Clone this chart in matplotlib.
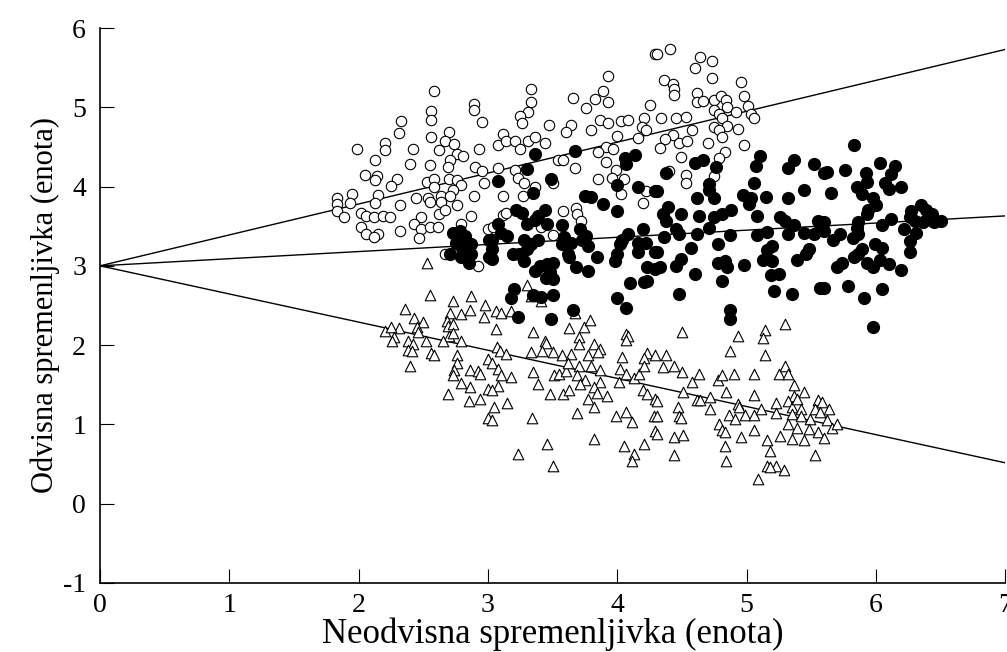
import numpy as np
import matplotlib.pyplot as plt

# odčitane točke (x, y) po skupinah
open_pts = np.array([
    (2.58, 5.21), (2.89, 5.04), (2.89, 4.97), (2.56, 4.95), (2.56, 4.84), (2.95, 4.82), (2.33, 4.83),
    (2.31, 4.68), (2.70, 4.69), (2.56, 4.63), (2.20, 4.55), (2.67, 4.57), (2.74, 4.54), (1.99, 4.47),
    (2.20, 4.46), (2.42, 4.47), (2.62, 4.46), (2.93, 4.48), (2.76, 4.41), (2.81, 4.38), (2.13, 4.33),
    (2.71, 4.33), (2.40, 4.29), (2.55, 4.27), (2.69, 4.25), (2.90, 4.25), (2.95, 4.20), (2.05, 4.15),
    (2.14, 4.13), (2.13, 4.08), (2.30, 4.10), (2.25, 4.01), (2.53, 4.06), (2.58, 4.09), (2.70, 4.09),
    (2.76, 4.08), (2.79, 4.02), (2.97, 4.05), (2.58, 3.99), (2.73, 3.96), (1.83, 3.85), (1.95, 3.90),
    (2.15, 3.89), (2.44, 3.86), (2.54, 3.86), (2.64, 3.88), (2.71, 3.88), (2.89, 3.88),
    (1.83, 3.78), (1.93, 3.79), (2.13, 3.79), (2.32, 3.77), (2.55, 3.80), (2.64, 3.81), (2.76, 3.77),
    (1.83, 3.69), (1.89, 3.61), (2.02, 3.67), (2.06, 3.63), (2.12, 3.62), (2.19, 3.63), (2.24, 3.62),
    (2.48, 3.62), (2.62, 3.65), (2.67, 3.71), (2.87, 3.63), (2.43, 3.53), (2.48, 3.46), (2.55, 3.49),
    (2.61, 3.49), (2.79, 3.53), (2.02, 3.49), (2.06, 3.40), (2.15, 3.40), (2.12, 3.37), (2.32, 3.44),
    (2.47, 3.35), (3.00, 3.46), (2.67, 3.15), (2.92, 3.00),
    (4.29, 5.67), (3.93, 5.40), (3.33, 5.23), (3.89, 5.20), (3.66, 5.12), (3.83, 5.11), (3.93, 5.07),
    (3.33, 5.07), (4.25, 5.03), (3.76, 4.99), (3.31, 4.94), (3.25, 4.89), (3.26, 4.80), (3.47, 4.78),
    (3.64, 4.78), (3.87, 4.84), (3.93, 4.80), (4.03, 4.83), (4.08, 4.84), (4.21, 4.86), (4.19, 4.75),
    (4.22, 4.71), (3.60, 4.69), (3.80, 4.71), (4.00, 4.64), (3.12, 4.66), (3.08, 4.52), (3.14, 4.57),
    (3.21, 4.57), (3.31, 4.57), (3.36, 4.63), (3.44, 4.55), (3.25, 4.48), (4.16, 4.61), (3.91, 4.50),
    (3.85, 4.43), (3.97, 4.47), (3.54, 4.34), (3.58, 4.33), (3.67, 4.24), (3.91, 4.31), (3.99, 4.21),
    (3.08, 4.24), (3.21, 4.21), (3.96, 4.11), (4.05, 4.09), (3.85, 4.09), (3.23, 4.11), (3.28, 4.04),
    (3.36, 4.00), (3.50, 4.04), (3.12, 3.88), (3.27, 3.88), (4.03, 3.90), (4.22, 3.94),
    (4.41, 5.73), (4.64, 5.64), (4.73, 5.58), (4.60, 5.50), (4.31, 5.67), (4.36, 5.35), (4.43, 5.29),
    (4.44, 5.23), (4.44, 5.16), (4.73, 5.37), (4.96, 5.32), (4.62, 5.18), (4.62, 5.07), (4.66, 5.08),
    (4.75, 5.09), (4.80, 5.14), (4.84, 5.09), (4.98, 5.14), (4.75, 4.97), (4.85, 5.01), (5.01, 5.02),
    (4.92, 4.94), (4.79, 4.92), (4.81, 4.86), (5.03, 4.92), (5.06, 4.87), (4.34, 4.86), (4.45, 4.86),
    (4.53, 4.88), (4.75, 4.75), (4.85, 4.76), (4.93, 4.73), (4.79, 4.71), (4.81, 4.62), (4.58, 4.71),
    (4.43, 4.65), (4.37, 4.60), (4.48, 4.55), (4.54, 4.57), (4.70, 4.55), (4.98, 4.53), (4.83, 4.43),
    (4.79, 4.36), (4.49, 4.37), (4.33, 4.49), (4.40, 4.20), (4.75, 4.13), (4.53, 4.15), (4.53, 4.04),
    (4.20, 3.79), (3.68, 3.73), (3.69, 3.66), (3.72, 3.57), (3.58, 3.69), (3.50, 3.39), (3.41, 3.49),
    (3.12, 3.64), (3.14, 3.67), (3.04, 3.49),
])

filled_pts = np.array([
    (2.73, 3.42), (2.78, 3.44), (2.82, 3.38), (2.75, 3.29), (2.80, 3.23), (2.87, 3.15), (2.71, 3.15),
    (2.79, 3.11), (2.85, 3.04), (3.01, 3.32), (3.01, 3.11), (2.87, 3.27), (2.82, 3.17),
    (3.36, 4.41), (3.67, 4.45), (3.30, 4.22), (3.08, 4.07), (3.49, 4.09), (3.35, 3.92), (4.06, 4.36),
    (4.07, 4.28), (4.14, 4.40), (4.00, 4.02), (4.16, 3.99), (4.29, 3.94), (3.75, 3.88), (3.80, 3.87),
    (4.38, 4.17), (4.60, 4.30), (4.66, 4.33), (4.76, 4.25), (4.71, 4.03), (4.71, 3.96), (4.31, 3.94),
    (5.10, 4.38), (5.07, 4.26), (5.06, 4.05), (5.37, 4.34), (5.32, 4.24), (5.52, 4.28), (5.60, 4.17),
    (5.44, 3.96), (4.62, 3.86), (4.75, 3.86), (4.97, 3.89), (5.03, 3.86), (5.15, 3.87), (5.32, 3.85),
    (5.83, 4.52), (5.62, 4.18), (5.76, 4.21), (5.92, 4.17), (6.03, 4.30), (6.15, 4.26), (6.12, 4.16),
    (5.93, 4.06), (5.85, 4.00), (6.07, 4.04), (6.10, 3.97), (6.19, 3.99), (5.65, 3.92), (5.89, 3.90),
    (5.98, 3.86),
    (3.22, 3.71), (3.26, 3.67), (3.44, 3.71), (3.39, 3.63), (3.36, 3.58), (3.30, 3.53), (3.46, 3.53),
    (3.57, 3.52), (4.00, 3.69), (3.89, 3.78), (3.08, 3.53), (3.10, 3.42), (3.15, 3.38), (3.71, 3.46),
    (3.76, 3.38), (3.73, 3.32), (4.20, 3.46), (4.08, 3.40), (4.04, 3.32), (4.02, 3.27), (4.16, 3.29),
    (4.22, 3.29), (4.29, 3.17), (3.03, 3.32), (3.03, 3.21), (3.03, 3.08), (3.28, 3.32), (3.33, 3.28),
    (3.39, 3.32), (3.30, 3.21), (3.24, 3.15), (3.19, 3.15), (3.28, 3.06), (3.57, 3.27), (3.64, 3.29),
    (3.59, 3.36), (3.62, 3.15), (3.63, 3.11), (3.77, 3.25), (3.84, 3.11), (4.00, 3.15), (3.98, 3.06),
    (4.16, 3.17), (3.50, 3.04), (3.46, 3.02), (3.40, 3.00), (3.36, 2.93), (3.48, 2.92), (3.45, 2.85),
    (3.50, 2.84), (3.68, 2.99), (3.77, 2.93), (4.23, 2.98), (4.29, 2.96), (4.23, 2.81), (4.21, 2.79),
    (4.10, 2.78), (3.20, 2.71), (3.18, 2.60), (3.35, 2.63), (3.41, 2.61), (3.50, 2.63), (4.00, 2.59),
    (4.07, 2.47), (3.66, 2.44), (3.23, 2.36), (3.49, 2.33),
    (4.39, 3.74), (4.35, 3.65), (4.38, 3.57), (4.49, 3.65), (4.63, 3.63), (4.75, 3.61), (4.81, 3.66),
    (4.88, 3.71), (5.02, 3.78), (5.08, 3.63), (5.26, 3.61), (5.30, 3.57), (5.37, 3.52), (5.55, 3.57),
    (4.45, 3.46), (4.48, 3.40), (4.36, 3.37), (4.62, 3.40), (4.71, 3.48), (4.87, 3.39), (5.08, 3.39),
    (5.16, 3.43), (5.32, 3.40), (5.44, 3.41), (5.52, 3.40), (5.57, 3.46), (4.31, 3.18), (4.49, 3.08),
    (4.45, 3.00), (4.33, 2.98), (4.57, 3.22), (4.78, 3.28), (5.20, 3.25), (5.16, 3.20), (5.48, 3.21),
    (5.46, 3.15), (5.39, 3.07), (4.78, 3.03), (4.83, 3.06), (4.85, 2.98), (4.98, 3.01), (5.13, 3.07),
    (5.20, 3.06), (4.60, 2.90), (4.81, 2.81), (5.19, 2.89), (5.25, 2.90), (4.48, 2.64), (5.21, 2.68),
    (5.35, 2.64), (5.57, 2.72), (4.87, 2.44), (4.87, 2.33),
    (5.94, 3.71), (6.00, 3.77), (5.93, 3.65), (6.35, 3.77), (6.39, 3.71), (6.43, 3.65), (6.27, 3.69),
    (6.26, 3.62), (6.30, 3.56), (6.36, 3.55), (6.45, 3.55), (6.50, 3.56), (5.86, 3.55), (5.85, 3.48),
    (6.05, 3.52), (6.12, 3.59), (6.22, 3.46), (6.31, 3.42), (5.60, 3.55), (5.60, 3.44), (5.72, 3.40),
    (5.67, 3.32), (5.82, 3.35), (5.86, 3.40), (6.26, 3.31), (6.26, 3.17), (5.99, 3.27), (6.05, 3.22),
    (5.89, 3.21), (5.86, 3.15), (5.83, 3.11), (5.74, 3.03), (5.70, 2.98), (5.93, 3.04), (6.03, 3.07),
    (5.98, 2.98), (6.10, 3.02), (6.19, 2.95), (5.60, 2.72), (5.78, 2.75), (5.91, 2.60), (6.05, 2.71),
    (5.98, 2.23),
])

tri_pts = np.array([
    (2.53, 3.03), (2.55, 2.63), (2.36, 2.45), (2.73, 2.56), (2.87, 2.62), (2.98, 2.50), (2.97, 2.36),
    (2.86, 2.44), (2.79, 2.39), (2.71, 2.40), (2.43, 2.34), (2.50, 2.29), (2.68, 2.30), (2.69, 2.24),
    (2.73, 2.26), (2.70, 2.12), (2.73, 2.15), (2.65, 2.05), (2.79, 2.05), (2.45, 2.23), (2.46, 2.17),
    (2.31, 2.21), (2.20, 2.18), (2.25, 2.23), (2.27, 2.10), (2.26, 2.05), (2.38, 2.05), (2.42, 2.01),
    (2.38, 1.94), (2.41, 1.93), (2.52, 2.05), (2.56, 1.90), (2.58, 1.88), (2.76, 1.87), (3.00, 1.82),
    (2.40, 1.73), (2.76, 1.77), (2.74, 1.68), (2.73, 1.62), (2.86, 1.68), (2.92, 1.67), (2.94, 1.64),
    (2.79, 1.52), (2.86, 1.47), (2.69, 1.38), (2.85, 1.29), (2.94, 1.32), (3.00, 1.45), (3.00, 1.08),
    (3.30, 2.76), (3.33, 2.62), (3.41, 2.55), (3.06, 2.43), (3.10, 2.41), (3.18, 2.43), (3.67, 2.41),
    (3.06, 2.20), (3.35, 2.16), (3.44, 2.05), (3.45, 2.03), (3.63, 2.21), (3.74, 2.23), (3.79, 2.32),
    (3.70, 2.10), (3.70, 2.01), (3.82, 2.02), (3.87, 1.95), (3.85, 1.91), (4.07, 2.14), (4.08, 2.11),
    (4.07, 2.06), (3.07, 1.97), (3.09, 1.93), (3.14, 1.89), (3.33, 1.91), (3.42, 1.93), (3.50, 1.91),
    (3.57, 1.87), (3.64, 1.89), (3.77, 1.88), (4.04, 1.85), (4.23, 1.90), (4.21, 1.84), (4.29, 1.87),
    (3.03, 1.77), (3.08, 1.70), (3.10, 1.62), (3.18, 1.60), (3.35, 1.66), (3.51, 1.62), (3.55, 1.64),
    (3.60, 1.67), (3.62, 1.77), (3.70, 1.73), (3.80, 1.74), (3.87, 1.69), (3.69, 1.62), (3.75, 1.56),
    (3.71, 1.51), (3.87, 1.54), (4.02, 1.70), (4.01, 1.53), (4.07, 1.63), (4.13, 1.59), (4.17, 1.64),
    (4.21, 1.73), (3.08, 1.49), (3.03, 1.43), (3.39, 1.51), (3.48, 1.38), (3.58, 1.38), (3.63, 1.43),
    (3.82, 1.47), (3.84, 1.39), (3.77, 1.32), (3.82, 1.22), (3.92, 1.36), (4.20, 1.43), (4.23, 1.38),
    (4.29, 1.32), (3.15, 1.27), (3.05, 1.22), (3.03, 1.05), (3.34, 1.08), (3.69, 1.14), (3.99, 1.11),
    (4.07, 1.15), (4.11, 1.03), (4.28, 1.10), (4.29, 0.91), (3.82, 0.81), (3.46, 0.75), (3.23, 0.62),
    (4.05, 0.73), (4.21, 0.75), (4.13, 0.62), (4.11, 0.54), (3.50, 0.47),
    (4.35, 1.72), (4.44, 1.74), (4.50, 1.66), (4.63, 1.64), (4.78, 1.56), (4.81, 1.62), (4.90, 1.63),
    (5.06, 1.64), (5.25, 1.64), (5.30, 1.74), (5.32, 1.63), (5.37, 1.50), (4.58, 1.53), (4.51, 1.41),
    (4.84, 1.41), (5.06, 1.37), (5.44, 1.41), (5.37, 1.36), (4.31, 1.30), (4.62, 1.31), (4.64, 1.31),
    (4.72, 1.34), (4.72, 1.20), (4.47, 1.22), (4.31, 1.11), (4.48, 1.11), (4.49, 1.08), (4.93, 1.26),
    (4.94, 1.22), (4.86, 1.12), (4.91, 1.07), (4.99, 1.12), (5.06, 1.12), (5.11, 1.20), (5.23, 1.27),
    (5.23, 1.14), (5.32, 1.29), (5.35, 1.22), (5.39, 1.32), (5.42, 1.20), (5.55, 1.31), (5.58, 1.28),
    (5.53, 1.20), (5.57, 1.15), (5.35, 1.13), (5.42, 1.11), (5.49, 1.07), (4.79, 1.00), (4.81, 0.93),
    (4.83, 0.90), (5.06, 0.93), (5.32, 1.00), (5.39, 0.96), (5.48, 0.94), (5.55, 0.90), (4.44, 0.84),
    (4.51, 0.86), (4.31, 0.88), (4.96, 0.84), (5.16, 0.80), (5.26, 0.85), (5.35, 0.82), (5.44, 0.80),
    (4.83, 0.73), (5.18, 0.67), (4.44, 0.61), (4.84, 0.54), (5.53, 0.61), (5.16, 0.48), (5.23, 0.47),
    (5.29, 0.42), (5.09, 0.31), (5.18, 0.46),
    (4.50, 2.17), (4.93, 2.11), (5.14, 2.19), (5.13, 2.09), (5.30, 2.27), (4.87, 1.92), (5.14, 1.88),
    (4.38, 1.88), (5.62, 1.06), (5.66, 0.96), (5.70, 1.00), (5.60, 0.83), (5.64, 1.20),
])

# regresijske premice: y = a + b*x
line_a = [3.0, 3.0, 3.0]
line_b = [0.39, 0.09, -0.355]

plt.rcParams['font.family'] = ['Liberation Serif', 'DejaVu Serif']
plt.rcParams['axes.unicode_minus'] = False

fig = plt.figure(figsize=(10.07, 6.52), dpi=100)
ax = fig.add_axes([0.0993, 0.106, 0.899, 0.851])

xs = np.array([0, 7])
for a, b in zip(line_a, line_b):
    ax.plot(xs, a + b * xs, color='black', lw=1.0, zorder=1)

ax.scatter(open_pts[:, 0], open_pts[:, 1], s=56, facecolors='white', edgecolors='black',
           linewidths=0.8, marker='o', zorder=2)
ax.scatter(filled_pts[:, 0], filled_pts[:, 1], s=72, color='black', marker='o', zorder=3)
ax.scatter(tri_pts[:, 0], tri_pts[:, 1], s=58, facecolors='white', edgecolors='black',
           linewidths=0.8, marker='^', zorder=2)

ax.set_xlim(0, 7)
ax.set_ylim(-1, 6)
ax.set_xticks(range(0, 8))
ax.set_yticks(range(-1, 7))
ax.spines['top'].set_visible(False)
ax.spines['right'].set_visible(False)
ax.spines['left'].set_linewidth(1.2)
ax.spines['bottom'].set_linewidth(1.2)
ax.tick_params(direction='in', length=10, width=0.8, colors='black', labelsize=20)
ax.tick_params(axis='x', pad=7)
ax.tick_params(axis='y', pad=10)
ax.set_xlabel('Neodvisna spremenljivka (enota)', fontsize=25, labelpad=0)
ax.set_ylabel('Odvisna spremenljivka (enota)', fontsize=22, labelpad=2)
for lbl in ax.get_xticklabels() + ax.get_yticklabels():
    lbl.set_clip_on(False)

fig.savefig('out.png', dpi=100)
